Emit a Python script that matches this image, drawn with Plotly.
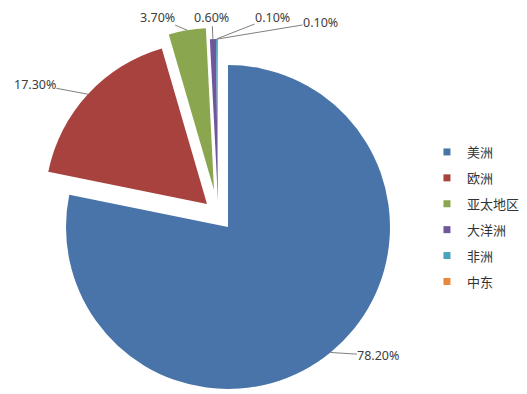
import math
import plotly.graph_objects as go

# ---- data ----
labels = ['美洲', '欧洲', '亚太地区', '大洋洲', '非洲', '中东']
values = [78.2, 17.3, 3.7, 0.6, 0.1, 0.1]
pct_labels = ['78.20%', '17.30%', '3.70%', '0.60%', '0.10%', '0.10%']

# ---- style / layout constants ----
colors = ['#4874A9', '#A8423F', '#8AA64F', '#6F579A', '#4AA3BE', '#E9873A']
W, H = 527, 394
CX, CY, R = 220, 219, 162            # pie centre / radius in px (figure coords)
# explosion offset of each slice (px)
explode = [(0, 0), (-21, -23), (-14, -37), (-10, -26), (-10, -26), (-10, -26)]
# label text centre relative to the leader-line anchor on the arc (px)
label_off = [(48, 3), (-53, -10), (-30, -13), (-1, -22), (56, -22), (103, -17)]

fig = go.Figure()
total = sum(values)
cum = 0.0
annotations = []
for i, (lab, v) in enumerate(zip(labels, values)):
    cx = CX + explode[i][0]
    cy = CY + explode[i][1]
    slice_colors = [colors[j] if j == i else 'rgba(0,0,0,0)' for j in range(len(values))]
    fig.add_trace(go.Pie(
        labels=labels, values=values, sort=False, direction='clockwise', rotation=0,
        marker=dict(colors=slice_colors, line=dict(width=0)),
        textinfo='none', hoverinfo='label+percent', showlegend=False,
        domain=dict(x=[(cx - R) / W, (cx + R) / W], y=[1 - (cy + R) / H, 1 - (cy - R) / H]),
    ))
    # leader anchor at slice bisector on the arc
    mid = (cum + v / 2) / total * 2 * math.pi
    cum += v
    px = cx + R * math.sin(mid)
    py = cy - R * math.cos(mid)
    annotations.append(dict(
        x=px / W, y=1 - py / H, xref='paper', yref='paper',
        text=pct_labels[i], showarrow=True, arrowhead=0, arrowwidth=1,
        arrowcolor='#7F7F7F', standoff=0, startstandoff=0,
        ax=label_off[i][0], ay=label_off[i][1], borderpad=0,
        font=dict(family='Noto Sans', size=12.5, color='#404040'),
    ))

# legend entries
for lab, c in zip(labels, colors):
    fig.add_trace(go.Scatter(
        x=[None], y=[None], mode='markers', name=lab, legendgroup=lab,
        marker=dict(symbol='square', size=7, color=c), showlegend=True,
    ))

fig.update_layout(
    width=W, height=H,
    margin=dict(l=0, r=0, t=0, b=0),
    paper_bgcolor='white', plot_bgcolor='white',
    xaxis=dict(visible=False), yaxis=dict(visible=False),
    annotations=annotations,
    legend=dict(
        x=0.795, y=0.6726, xanchor='left', yanchor='top',
        traceorder='grouped', tracegroupgap=6,
        font=dict(family='Noto Sans CJK SC', size=13, color='#333333'),
        bgcolor='rgba(0,0,0,0)',
    ),
)

fig.write_html('out.html')
